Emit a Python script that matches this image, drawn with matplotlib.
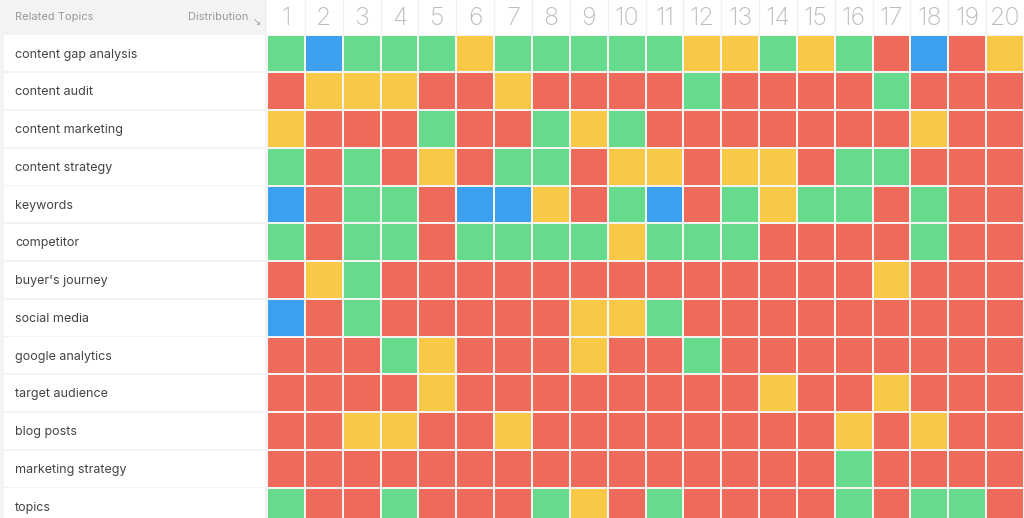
import matplotlib
matplotlib.use("Agg")
import matplotlib.pyplot as plt
import numpy as np
from matplotlib.colors import ListedColormap

plt.rcParams['font.family'] = ['Inter', 'DejaVu Sans']

topics = ["content gap analysis", "content audit", "content marketing", "content strategy",
          "keywords", "competitor", "buyer's journey", "social media", "google analytics",
          "target audience", "blog posts", "marketing strategy", "topics"]
positions = [str(i) for i in range(1, 21)]

# Category codes: 0=red, 1=yellow, 2=green, 3=blue
rows = [
    "GBGGGYGGGGGYYGYGRBRY",
    "RYYYRRYRRRRGRRRRGRRR",
    "YRRRGRRGYGRRRRRRRYRR",
    "GRGRYRGGRYYRYYRGGRRR",
    "BRGGRBBYRGBRGYGGRGRR",
    "GRGGRGGGGYGGGRRRRGRR",
    "RYGRRRRRRRRRRRRRYRRR",
    "BRGRRRRRYYGRRRRRRRRR",
    "RRRGYRRRYRRGRRRRRRRR",
    "RRRRYRRRRRRRRYRRYRRR",
    "RRYYRRYRRRRRRRRYRYRR",
    "RRRRRRRRRRRRRRRGRRRR",
    "GRRGRRRGYRGRRRRGRGGR",
]
code = {"R": 0, "Y": 1, "G": 2, "B": 3}
values = np.array([[code[c] for c in r] for r in rows])

palette = ["#ee6a5b", "#f9c846", "#66db8c", "#3ba0f0"]

W, H = 1024, 518
gx0 = 267
gw = W - gx0
hdr = 34.5
pitch = 37.75
gh = pitch * len(topics)
bottom = (H - hdr - gh) / H

fig = plt.figure(figsize=(W / 100, H / 100), dpi=100, facecolor="white")

# main grid
ax = fig.add_axes([gx0 / W, bottom, gw / W, gh / H])
ax.pcolormesh(values, cmap=ListedColormap(palette), vmin=-0.5, vmax=3.5,
              edgecolors="#f6f3f3", linewidth=1.3)
ax.set_xlim(0, len(positions))
ax.set_ylim(len(topics), 0)
ax.axis("off")

# column header
axh = fig.add_axes([gx0 / W, (H - hdr) / H, gw / W, hdr / H], facecolor="white")
axh.set_xlim(0, len(positions))
axh.set_ylim(1, 0)
for i, p in enumerate(positions):
    axh.text(i + 0.5, 0.54, p, ha="center", va="center", fontsize=18,
             color="#bcbcbc", fontweight="light")
for i in range(1, len(positions)):
    axh.axvline(i, color="#f0f0f0", lw=1)
axh.set_xticks([]); axh.set_yticks([])
for s in axh.spines.values():
    s.set_visible(False)

# left panel header
axlh = fig.add_axes([0, (H - hdr) / H, gx0 / W, hdr / H])
axlh.set_facecolor("#f3f3f3")
axlh.set_xlim(0, gx0)
axlh.set_ylim(hdr, 0)
axlh.set_xticks([]); axlh.set_yticks([])
for s in axlh.spines.values():
    s.set_visible(False)
axlh.text(15, 17, "Related Topics", ha="left", va="center", fontsize=8, color="#9a9a9a")
axlh.text(248, 16.5, "Distribution", ha="right", va="center", fontsize=8, color="#9a9a9a")
axlh.text(257, 22.5, "↘", ha="center", va="center", fontsize=7, color="#9a9a9a",
          family=["DejaVu Sans"])

# left panel topics
axl = fig.add_axes([0, bottom, gx0 / W, gh / H])
axl.set_facecolor("#f3f3f3")
axl.set_xlim(0, gx0)
axl.set_ylim(len(topics), 0)
ypos = np.arange(len(topics)) + 0.5
axl.barh(ypos, [261] * len(topics), left=4, height=0.95, color="white")
for y, t in zip(ypos, topics):
    axl.text(15, y + 0.03, t, ha="left", va="center", fontsize=9, color="#444444")
axl.set_xticks([]); axl.set_yticks([])
for s in axl.spines.values():
    s.set_visible(False)

fig.savefig("out.png", dpi=100, facecolor="white")
